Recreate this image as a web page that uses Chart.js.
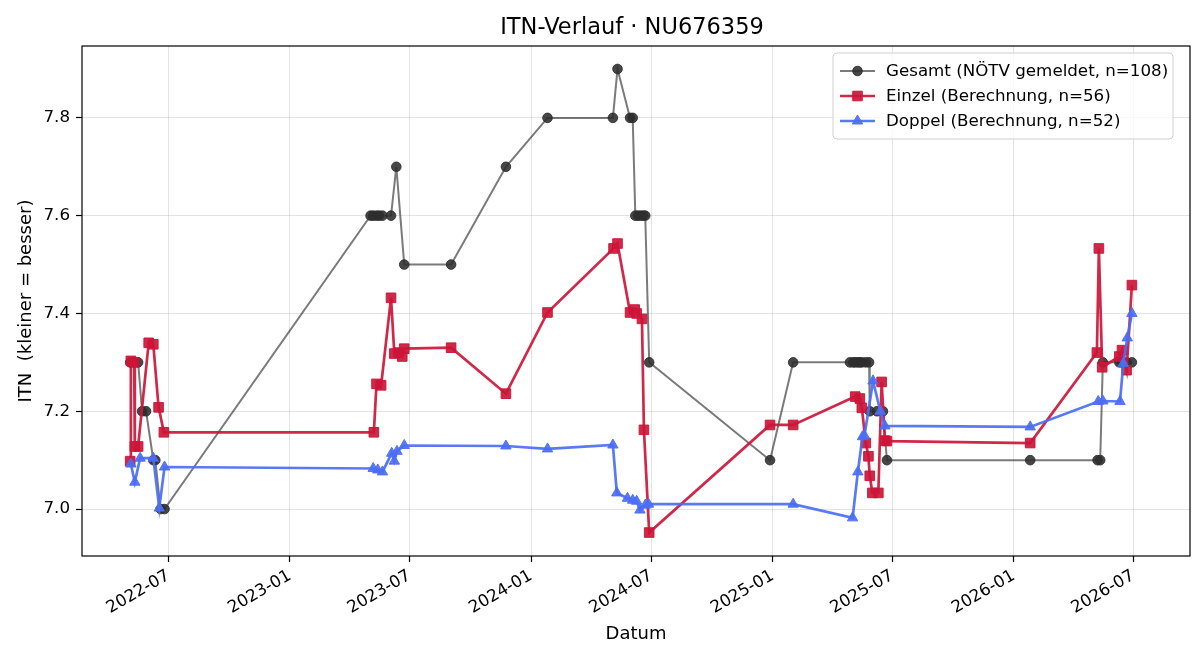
<!DOCTYPE html>
<html>
<head>
<meta charset="utf-8">
<script src="https://cdn.jsdelivr.net/npm/chart.js@4.4.1/dist/chart.umd.min.js"></script>
<style>
  html, body { margin: 0; padding: 0; background: #fff; }
  #wrap { width: 1200px; height: 660px; }
</style>
</head>
<body>
<div id="wrap"><canvas id="chart" width="1200" height="660"></canvas></div>
<script>
// Texte
const titel = 'ITN-Verlauf · NU676359';
const xTitel = 'Datum';
const yTitel = 'ITN  (kleiner = besser)';
const serienNamen = ['Gesamt (NÖTV gemeldet, n=108)', 'Einzel (Berechnung, n=56)', 'Doppel (Berechnung, n=52)'];

// Achsen
const xTickLabels = ['2022-07', '2023-01', '2023-07', '2024-01', '2024-07', '2025-01', '2025-07', '2026-01', '2026-07'];
const yTicks = [7.0, 7.2, 7.4, 7.6, 7.8];
const xVon = '2022-02-20';
const xBis = '2026-09-25';
const yVon = 6.904;
const yBis = 7.947;

// Gesamt (gemeldete ITN)
const gesamtDaten = [
  '2022-05-04', '2022-05-10', '2022-05-16', '2022-05-22', '2022-05-28', '2022-06-08', '2022-06-11', '2022-06-19', '2022-06-25',
  '2023-05-03', '2023-05-07', '2023-05-12', '2023-05-16', '2023-05-21', '2023-06-03', '2023-06-11', '2023-06-23', '2023-09-02', '2023-11-24',
  '2024-01-26', '2024-05-04', '2024-05-11', '2024-05-30', '2024-06-03', '2024-06-07', '2024-06-11', '2024-06-15', '2024-06-19', '2024-06-22', '2024-06-28',
  '2024-12-28', '2025-02-01', '2025-04-28', '2025-05-03', '2025-05-06', '2025-05-10', '2025-05-13', '2025-05-16', '2025-05-22', '2025-05-27',
  '2025-05-28', '2025-06-08', '2025-06-17', '2025-06-23',
  '2026-01-26', '2026-05-08', '2026-05-12', '2026-05-16', '2026-06-10', '2026-06-14', '2026-06-21', '2026-06-29'
];
const gesamtItn = [
  7.3, 7.3, 7.3, 7.2, 7.2, 7.1, 7.1, 7.0, 7.0,
  7.6, 7.6, 7.6, 7.6, 7.6, 7.6, 7.7, 7.5, 7.5, 7.7,
  7.8, 7.8, 7.9, 7.8, 7.8, 7.6, 7.6, 7.6, 7.6, 7.6, 7.3,
  7.1, 7.3, 7.3, 7.3, 7.3, 7.3, 7.3, 7.3, 7.3, 7.3,
  7.2, 7.2, 7.2, 7.1,
  7.1, 7.1, 7.1, 7.3, 7.3, 7.3, 7.3, 7.3
];

// Einzel (berechnet)
const einzelDaten = [
  '2022-05-04', '2022-05-05', '2022-05-10', '2022-05-11', '2022-05-16', '2022-06-01', '2022-06-08', '2022-06-16', '2022-06-24',
  '2023-05-08', '2023-05-12', '2023-05-19', '2023-06-03', '2023-06-08', '2023-06-14', '2023-06-20', '2023-06-23', '2023-09-02', '2023-11-24',
  '2024-01-26', '2024-05-05', '2024-05-11', '2024-05-30', '2024-06-06', '2024-06-09', '2024-06-17', '2024-06-20', '2024-06-28',
  '2024-12-28', '2025-02-01', '2025-05-06', '2025-05-13', '2025-05-16', '2025-05-22', '2025-05-26', '2025-05-28', '2025-06-01', '2025-06-10',
  '2025-06-15', '2025-06-20', '2025-06-23',
  '2026-01-26', '2026-05-07', '2026-05-10', '2026-05-15', '2026-06-10', '2026-06-14', '2026-06-21', '2026-06-29'
];
const einzelItn = [
  7.098, 7.303, 7.300, 7.128, 7.128, 7.340, 7.337, 7.208, 7.157,
  7.157, 7.256, 7.253, 7.432, 7.318, 7.320, 7.312, 7.328, 7.330, 7.236,
  7.402, 7.533, 7.543, 7.402, 7.408, 7.400, 7.389, 7.162, 6.952,
  7.172, 7.172, 7.230, 7.226, 7.207, 7.135, 7.108, 7.068, 7.033, 7.033,
  7.260, 7.140, 7.139,
  7.135, 7.320, 7.533, 7.290, 7.312, 7.325, 7.284, 7.458
];

// Doppel (berechnet)
const doppelDaten = [
  '2022-05-05', '2022-05-11', '2022-05-19', '2022-06-08', '2022-06-17', '2022-06-25',
  '2023-05-07', '2023-05-14', '2023-05-21', '2023-06-04', '2023-06-08', '2023-06-12', '2023-06-23', '2023-11-24',
  '2024-01-26', '2024-05-04', '2024-05-10', '2024-05-26', '2024-06-03', '2024-06-09', '2024-06-14', '2024-06-22', '2024-06-27',
  '2025-02-01', '2025-05-02', '2025-05-10', '2025-05-17', '2025-05-20', '2025-06-02', '2025-06-13', '2025-06-20',
  '2026-01-26', '2026-05-09', '2026-05-16', '2026-06-11', '2026-06-16', '2026-06-22', '2026-06-29'
];
const doppelItn = [
  7.092, 7.055, 7.104, 7.104, 7.002, 7.086,
  7.083, 7.080, 7.076, 7.114, 7.098, 7.118, 7.130, 7.129,
  7.123, 7.131, 7.033, 7.022, 7.018, 7.016, 6.998, 7.008, 7.010,
  7.010, 6.982, 7.076, 7.148, 7.150, 7.262, 7.200, 7.170,
  7.168, 7.220, 7.221, 7.220, 7.298, 7.350, 7.400
];

// Farben
const grauLinie = 'rgba(0,0,0,0.52)';
const grauPunkt = 'rgba(45,45,45,0.88)';
const rot = 'rgba(204,22,56,0.92)';
const blau = 'rgba(76,110,244,0.92)';

const schrift = '"DejaVu Sans", sans-serif';

function zuPunkten(daten, werte) {
  return daten.map((d, i) => ({ x: Date.parse(d + 'T00:00:00Z'), y: werte[i] }));
}

const datasets = [
  {
    label: serienNamen[0],
    data: zuPunkten(gesamtDaten, gesamtItn),
    borderColor: grauLinie,
    borderWidth: 2,
    pointStyle: 'circle',
    pointRadius: 4.8,
    pointBackgroundColor: grauPunkt,
    pointBorderColor: grauPunkt,
    pointBorderWidth: 1,
    order: 3
  },
  {
    label: serienNamen[1],
    data: zuPunkten(einzelDaten, einzelItn),
    borderColor: rot,
    borderWidth: 2.7,
    pointStyle: 'rect',
    pointRadius: 6.8,
    pointBackgroundColor: rot,
    pointBorderColor: rot,
    pointBorderWidth: 1,
    order: 2
  },
  {
    label: serienNamen[2],
    data: zuPunkten(doppelDaten, doppelItn),
    borderColor: blau,
    borderWidth: 2.7,
    pointStyle: 'triangle',
    pointRadius: 6,
    pointBackgroundColor: blau,
    pointBorderColor: blau,
    pointBorderWidth: 1,
    order: 1
  }
];

// Rahmen, Titel und Legende im Diagramm
const rahmenPlugin = {
  id: 'rahmen',
  afterDraw(chart) {
    const { ctx, chartArea: a } = chart;
    ctx.save();
    ctx.strokeStyle = '#000';
    ctx.lineWidth = 1.2;
    ctx.strokeRect(a.left, a.top, a.right - a.left, a.bottom - a.top);

    ctx.fillStyle = '#000';
    ctx.font = '22.5px ' + schrift;
    ctx.textAlign = 'center';
    ctx.textBaseline = 'middle';
    ctx.fillText(titel, (a.left + a.right) / 2 - 4, 28);

    // Legende oben rechts
    const bx = 833, by = 53, bw = 340, bh = 86;
    ctx.beginPath();
    ctx.roundRect(bx, by, bw, bh, 4);
    ctx.fillStyle = 'rgba(255,255,255,0.8)';
    ctx.fill();
    ctx.strokeStyle = '#d0d0d0';
    ctx.lineWidth = 1;
    ctx.stroke();

    ctx.font = '16.7px ' + schrift;
    ctx.textAlign = 'left';
    datasets.forEach((ds, i) => {
      const y = 71 + i * 25;
      ctx.strokeStyle = ds.borderColor;
      ctx.lineWidth = ds.borderWidth;
      ctx.beginPath();
      ctx.moveTo(840, y);
      ctx.lineTo(875, y);
      ctx.stroke();
      ctx.fillStyle = ds.pointBackgroundColor;
      ctx.strokeStyle = ds.pointBorderColor;
      ctx.lineWidth = 1;
      Chart.helpers.drawPoint(ctx, { pointStyle: ds.pointStyle, radius: ds.pointRadius, rotation: 0, borderWidth: 1 }, 857.5, y);
      ctx.fillStyle = '#000';
      ctx.fillText(ds.label, 886, y + 1);
    });
    ctx.restore();
  }
};

new Chart(document.getElementById('chart'), {
  type: 'line',
  data: { datasets },
  options: {
    responsive: false,
    devicePixelRatio: 1,
    animation: false,
    layout: { padding: { top: 46, right: 10, left: 0, bottom: 0 } },
    elements: { line: { tension: 0 } },
    plugins: {
      legend: { display: false },
      tooltip: { enabled: false }
    },
    scales: {
      x: {
        type: 'linear',
        min: Date.parse(xVon + 'T00:00:00Z'),
        max: Date.parse(xBis + 'T00:00:00Z'),
        afterBuildTicks: (scale) => {
          scale.ticks = xTickLabels.map(l => ({ value: Date.parse(l + '-01T00:00:00Z') }));
        },
        afterFit: (scale) => { scale.height = 104; },
        ticks: {
          autoSkip: false,
          minRotation: 30,
          maxRotation: 30,
          padding: 4,
          color: '#000',
          font: { family: schrift, size: 16.7 },
          callback: (v, i) => xTickLabels[i]
        },
        grid: {
          color: 'rgba(176,176,176,0.35)',
          lineWidth: 1,
          drawTicks: true,
          tickLength: 6,
          tickColor: '#000',
          tickWidth: 1.2
        },
        border: { display: false },
        title: {
          display: true,
          text: xTitel,
          color: '#000',
          font: { family: schrift, size: 18 },
          padding: { top: 0, bottom: 15 }
        }
      },
      y: {
        min: yVon,
        max: yBis,
        afterBuildTicks: (scale) => {
          scale.ticks = yTicks.map(v => ({ value: v }));
        },
        afterFit: (scale) => { scale.width = 82; },
        ticks: {
          padding: 6,
          color: '#000',
          font: { family: schrift, size: 16.7 },
          callback: (v) => v.toFixed(1)
        },
        grid: {
          color: 'rgba(176,176,176,0.35)',
          lineWidth: 1,
          drawTicks: true,
          tickLength: 6,
          tickColor: '#000',
          tickWidth: 1.2
        },
        border: { display: false },
        title: {
          display: true,
          text: yTitel,
          color: '#000',
          font: { family: schrift, size: 18 },
          padding: { top: 16, bottom: 0 }
        }
      }
    }
  },
  plugins: [rahmenPlugin]
});
</script>
</body>
</html>
